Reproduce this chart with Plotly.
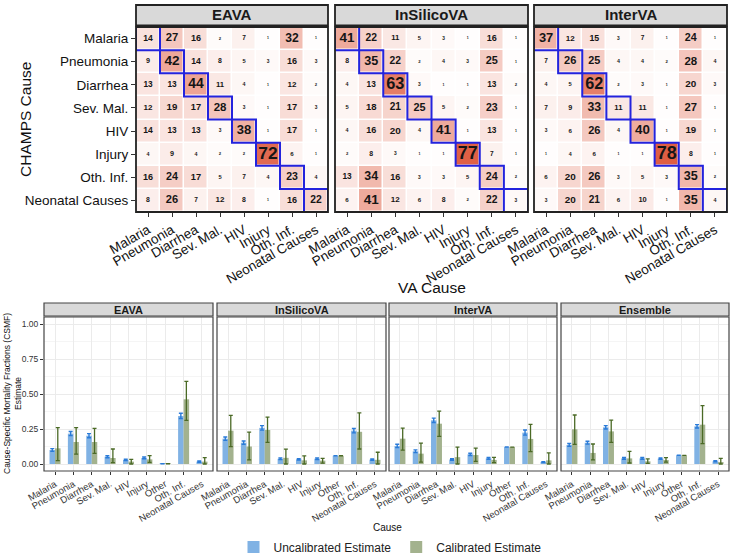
import plotly.graph_objects as go
import numpy as np

W, H = 733, 558
FONT = "Liberation Sans, Arial, Helvetica, sans-serif"

# ---------------- data: confusion matrices (rows = CHAMPS cause, cols = VA cause) --------------
HM_CAUSES = ["Malaria", "Pneumonia", "Diarrhea", "Sev. Mal.", "HIV", "Injury", "Oth. Inf.", "Neonatal Causes"]
HM_METHODS = ["EAVA", "InSilicoVA", "InterVA"]

EAVA_MAT = [
    [14, 27, 16, 2, 7, 1, 32, 1],
    [9, 42, 14, 8, 5, 3, 16, 3],
    [13, 13, 44, 11, 4, 1, 12, 2],
    [12, 19, 17, 28, 3, 1, 17, 3],
    [14, 13, 13, 3, 38, 1, 17, 1],
    [4, 9, 4, 2, 2, 72, 6, 1],
    [16, 24, 17, 5, 7, 4, 23, 4],
    [8, 26, 7, 12, 8, 1, 16, 22],
]
INSILICO_MAT = [
    [41, 22, 11, 5, 3, 1, 16, 1],
    [8, 35, 22, 2, 4, 3, 25, 1],
    [4, 13, 63, 3, 1, 1, 13, 2],
    [5, 18, 21, 25, 5, 2, 23, 1],
    [4, 16, 20, 4, 41, 1, 13, 1],
    [2, 8, 3, 1, 1, 77, 7, 1],
    [13, 34, 16, 3, 3, 5, 24, 2],
    [6, 41, 12, 6, 8, 2, 22, 3],
]
INTERVA_MAT = [
    [37, 12, 15, 3, 7, 1, 24, 1],
    [7, 26, 25, 4, 4, 2, 28, 4],
    [4, 5, 62, 2, 3, 1, 20, 3],
    [7, 9, 33, 11, 11, 1, 27, 1],
    [3, 6, 26, 4, 40, 1, 19, 1],
    [1, 4, 6, 1, 1, 78, 8, 1],
    [6, 20, 26, 3, 5, 3, 35, 2],
    [3, 20, 21, 6, 10, 1, 35, 4],
]

# ---------------- data: CSMF estimates ----------------
BAR_CAUSES = ["Malaria", "Pneumonia", "Diarrhea", "Sev. Mal.", "HIV", "Injury", "Other", "Oth. Inf.", "Neonatal Causes"]
BAR_METHODS = ["EAVA", "InSilicoVA", "InterVA", "Ensemble"]

EAVA_UNCAL = [0.100, 0.217, 0.202, 0.052, 0.029, 0.043, 0.002, 0.343, 0.017]
EAVA_UNCAL_LO = [0.090, 0.203, 0.188, 0.045, 0.024, 0.037, 0.001, 0.325, 0.013]
EAVA_UNCAL_HI = [0.110, 0.232, 0.217, 0.059, 0.034, 0.050, 0.003, 0.362, 0.021]
EAVA_CAL = [0.112, 0.157, 0.157, 0.043, 0.017, 0.033, 0.002, 0.462, 0.017]
EAVA_CAL_LO = [0.024, 0.071, 0.076, 0.010, 0.000, 0.012, 0.001, 0.312, 0.000]
EAVA_CAL_HI = [0.260, 0.260, 0.255, 0.107, 0.033, 0.060, 0.003, 0.590, 0.045]

INSILICO_UNCAL = [0.181, 0.152, 0.258, 0.037, 0.033, 0.038, 0.059, 0.238, 0.031]
INSILICO_UNCAL_LO = [0.169, 0.140, 0.242, 0.031, 0.028, 0.032, 0.059, 0.222, 0.026]
INSILICO_UNCAL_HI = [0.193, 0.164, 0.274, 0.043, 0.038, 0.044, 0.059, 0.254, 0.036]
INSILICO_CAL = [0.238, 0.125, 0.243, 0.044, 0.026, 0.024, 0.059, 0.230, 0.030]
INSILICO_CAL_LO = [0.124, 0.030, 0.155, 0.000, 0.000, 0.006, 0.059, 0.107, 0.000]
INSILICO_CAL_HI = [0.348, 0.228, 0.335, 0.106, 0.058, 0.040, 0.059, 0.365, 0.084]

INTERVA_UNCAL = [0.129, 0.091, 0.312, 0.032, 0.069, 0.040, 0.121, 0.224, 0.014]
INTERVA_UNCAL_LO = [0.117, 0.081, 0.296, 0.027, 0.061, 0.034, 0.121, 0.206, 0.011]
INTERVA_UNCAL_HI = [0.141, 0.101, 0.328, 0.037, 0.077, 0.046, 0.121, 0.243, 0.017]
INTERVA_CAL = [0.181, 0.074, 0.288, 0.049, 0.064, 0.029, 0.121, 0.179, 0.026]
INTERVA_CAL_LO = [0.099, 0.014, 0.197, 0.000, 0.019, 0.010, 0.121, 0.088, 0.000]
INTERVA_CAL_HI = [0.256, 0.149, 0.378, 0.121, 0.114, 0.048, 0.121, 0.283, 0.079]

ENSEMBLE_UNCAL = [0.136, 0.152, 0.262, 0.040, 0.040, 0.038, 0.062, 0.269, 0.019]
ENSEMBLE_UNCAL_LO = [0.126, 0.142, 0.250, 0.034, 0.034, 0.033, 0.062, 0.257, 0.015]
ENSEMBLE_UNCAL_HI = [0.146, 0.162, 0.274, 0.046, 0.046, 0.043, 0.062, 0.281, 0.023]
ENSEMBLE_CAL = [0.248, 0.079, 0.233, 0.040, 0.019, 0.029, 0.062, 0.281, 0.014]
ENSEMBLE_CAL_LO = [0.140, 0.029, 0.155, 0.007, 0.005, 0.014, 0.062, 0.145, 0.000]
ENSEMBLE_CAL_HI = [0.350, 0.143, 0.314, 0.090, 0.036, 0.045, 0.062, 0.417, 0.040]

Y_TICKS = [0, 0.25, 0.5, 0.75, 1.0]
Y_TICKTEXT = ["0.00", "0.25", "0.50", "0.75", "1.00"]

# ---------------- layout geometry (pixels) ----------------
HM_X_PX = [(136, 328), (335, 528), (534, 727)]
HM_Y_PX = (27, 212)
HM_STRIP_PX = 22
BAR_X_PX = [(44, 213), (217, 386), (389, 557), (561, 729)]
BAR_Y_PX = (317, 471)
BAR_STRIP_PX = 14


def dx(a, b):
    return [a / W, b / W]


def dy(top, bottom):
    return [1 - bottom / H, 1 - top / H]


fig = go.Figure()
layout = {}
shapes = []
annotations = []

HM_COLORSCALE = [[0, "#ffffff"], [1, "rgb(214,48,14)"]]
mats = [EAVA_MAT, INSILICO_MAT, INTERVA_MAT]

for k, (name, mat) in enumerate(zip(HM_METHODS, mats)):
    sfx = "" if k == 0 else str(k + 1)
    z = np.array(mat)
    n = len(HM_CAUSES)
    fig.add_trace(go.Heatmap(
        z=z, x=list(range(n)), y=list(range(n)),
        colorscale=HM_COLORSCALE, zmin=0, zmax=100, showscale=False,
        xgap=1.5, ygap=1.5, hoverinfo="skip",
        xaxis="x" + sfx, yaxis="y" + sfx,
    ))
    xs, ys, ts, ss = [], [], [], []
    for r in range(n):
        for c in range(n):
            v = z[r, c]
            xs.append(c)
            ys.append(r)
            ts.append(str(v))
            ss.append(1.6 + 1.86 * np.sqrt(v))
    fig.add_trace(go.Scatter(
        x=xs, y=ys, mode="text", text=ts,
        textfont=dict(size=ss, color="#151515", family=FONT, weight="bold"),
        hoverinfo="skip", showlegend=False,
        xaxis="x" + sfx, yaxis="y" + sfx,
    ))
    layout["xaxis" + sfx] = dict(
        domain=dx(*HM_X_PX[k]), range=[-0.5, n - 0.5], anchor="y" + sfx,
        tickmode="array", tickvals=list(range(n)), ticktext=HM_CAUSES,
        tickangle=-30, ticks="outside", ticklen=4, tickcolor="#333",
        tickfont=dict(size=13.5, color="#111", family=FONT),
        showgrid=False, zeroline=False, showline=False, automargin=False,
    )
    layout["yaxis" + sfx] = dict(
        domain=dy(*HM_Y_PX), range=[n - 0.5, -0.5], anchor="x" + sfx,
        tickmode="array", tickvals=list(range(n)), ticktext=HM_CAUSES,
        showticklabels=(k == 0), ticks="outside" if k == 0 else "",
        ticklen=4, tickcolor="#333",
        tickfont=dict(size=13.5, color="#111", family=FONT),
        showgrid=False, zeroline=False, showline=False, automargin=False,
    )
    # diagonal outlines
    for i in range(n):
        shapes.append(dict(type="rect", xref="x" + sfx, yref="y" + sfx,
                           x0=i - 0.5, x1=i + 0.5, y0=i - 0.5, y1=i + 0.5,
                           line=dict(color="#2323dd", width=2), layer="above"))
    hm_h = HM_Y_PX[1] - HM_Y_PX[0]
    shapes.append(dict(type="rect", xref="x" + sfx + " domain", yref="y" + sfx + " domain",
                       x0=0, x1=1, y0=0, y1=1, line=dict(color="#222", width=1.8), layer="above"))
    shapes.append(dict(type="rect", xref="x" + sfx + " domain", yref="y" + sfx + " domain",
                       x0=0, x1=1, y0=1 + 1.5 / hm_h, y1=1 + HM_STRIP_PX / hm_h,
                       fillcolor="#d9d9d9", line=dict(color="#222", width=1.8), layer="above"))
    annotations.append(dict(xref="x" + sfx + " domain", yref="y" + sfx + " domain",
                            x=0.5, y=1 + (HM_STRIP_PX / 2 + 1) / hm_h, text="<b>" + name + "</b>",
                            showarrow=False, font=dict(size=15, color="#1a1a1a", family=FONT),
                            xanchor="center", yanchor="middle"))

# ---------------- bar panels ----------------
bar_sets = [
    (EAVA_UNCAL, EAVA_UNCAL_LO, EAVA_UNCAL_HI, EAVA_CAL, EAVA_CAL_LO, EAVA_CAL_HI),
    (INSILICO_UNCAL, INSILICO_UNCAL_LO, INSILICO_UNCAL_HI, INSILICO_CAL, INSILICO_CAL_LO, INSILICO_CAL_HI),
    (INTERVA_UNCAL, INTERVA_UNCAL_LO, INTERVA_UNCAL_HI, INTERVA_CAL, INTERVA_CAL_LO, INTERVA_CAL_HI),
    (ENSEMBLE_UNCAL, ENSEMBLE_UNCAL_LO, ENSEMBLE_UNCAL_HI, ENSEMBLE_CAL, ENSEMBLE_CAL_LO, ENSEMBLE_CAL_HI),
]
UNCAL_COLOR = "#80b2e4"
CAL_COLOR = "#a3b28e"
UNCAL_ERR = "#2a7bd8"
CAL_ERR = "#4b6a26"

for j, (name, data) in enumerate(zip(BAR_METHODS, bar_sets)):
    sfx = str(j + 4)
    u, ulo, uhi, c, clo, chi = [np.array(a) for a in data]
    xs = list(range(len(BAR_CAUSES)))
    fig.add_trace(go.Bar(
        x=xs, y=u, name="Uncalibrated Estimate", marker=dict(color=UNCAL_COLOR, line=dict(width=0)),
        error_y=dict(type="data", symmetric=False, array=uhi - u, arrayminus=u - ulo,
                     color=UNCAL_ERR, thickness=1.4, width=2),
        showlegend=(j == 0), legendgroup="u", offsetgroup="u",
        xaxis="x" + sfx, yaxis="y" + sfx, hoverinfo="skip",
    ))
    fig.add_trace(go.Bar(
        x=xs, y=c, name="Calibrated Estimate", marker=dict(color=CAL_COLOR, line=dict(width=0)),
        error_y=dict(type="data", symmetric=False, array=chi - c, arrayminus=c - clo,
                     color=CAL_ERR, thickness=1.3, width=2),
        showlegend=(j == 0), legendgroup="c", offsetgroup="c",
        xaxis="x" + sfx, yaxis="y" + sfx, hoverinfo="skip",
    ))
    layout["xaxis" + sfx] = dict(
        domain=dx(*BAR_X_PX[j]), range=[-0.6, len(BAR_CAUSES) - 0.4], anchor="y" + sfx,
        tickmode="array", tickvals=xs, ticktext=BAR_CAUSES, tickangle=-30,
        ticks="outside", ticklen=3, tickcolor="#333",
        tickfont=dict(size=9.5, color="#333", family=FONT),
        showgrid=True, gridcolor="#ebebeb", gridwidth=0.8, zeroline=False, showline=False,
        automargin=False,
    )
    layout["yaxis" + sfx] = dict(
        domain=dy(*BAR_Y_PX), range=[-0.05, 1.05], anchor="x" + sfx,
        tickmode="array", tickvals=Y_TICKS, ticktext=Y_TICKTEXT,
        showticklabels=(j == 0), ticks="outside" if j == 0 else "", ticklen=3, tickcolor="#333",
        tickfont=dict(size=8.5, color="#333", family=FONT),
        showgrid=True, gridcolor="#ebebeb", gridwidth=0.8, zeroline=False, showline=False,
        minor=dict(tickvals=[0.125, 0.375, 0.625, 0.875], showgrid=True, gridcolor="#f5f5f5", gridwidth=0.5),
        automargin=False,
    )
    bh = BAR_Y_PX[1] - BAR_Y_PX[0]
    shapes.append(dict(type="rect", xref="x" + sfx + " domain", yref="y" + sfx + " domain",
                       x0=0, x1=1, y0=0, y1=1, line=dict(color="#444", width=1.2), layer="above"))
    shapes.append(dict(type="rect", xref="x" + sfx + " domain", yref="y" + sfx + " domain",
                       x0=0, x1=1, y0=1 + 1 / bh, y1=1 + BAR_STRIP_PX / bh,
                       fillcolor="#d9d9d9", line=dict(color="#444", width=1.2), layer="above"))
    annotations.append(dict(xref="x" + sfx + " domain", yref="y" + sfx + " domain",
                            x=0.5, y=1 + (BAR_STRIP_PX / 2 + 0.5) / bh, text="<b>" + name + "</b>",
                            showarrow=False, font=dict(size=11, color="#1a1a1a", family=FONT),
                            xanchor="center", yanchor="middle"))

# ---------------- titles ----------------
annotations.append(dict(xref="paper", yref="paper", x=432 / W, y=1 - 287 / H, text="VA Cause",
                        showarrow=False, font=dict(size=15.5, color="#111", family=FONT),
                        xanchor="center", yanchor="middle"))
annotations.append(dict(xref="paper", yref="paper", x=25 / W, y=1 - 120 / H, text="CHAMPS Cause",
                        showarrow=False, textangle=-90, font=dict(size=15.5, color="#111", family=FONT),
                        xanchor="center", yanchor="middle"))
annotations.append(dict(xref="paper", yref="paper", x=387 / W, y=1 - 527 / H, text="Cause",
                        showarrow=False, font=dict(size=10, color="#111", family=FONT),
                        xanchor="center", yanchor="middle"))
annotations.append(dict(xref="paper", yref="paper", x=12 / W, y=1 - 394 / H,
                        text="Cause-Specific Mortality Fractions (CSMF)<br>Estimate",
                        showarrow=False, textangle=-90, font=dict(size=8.5, color="#111", family=FONT),
                        xanchor="center", yanchor="middle"))

fig.update_layout(
    width=W, height=H, margin=dict(l=0, r=0, t=0, b=0, autoexpand=False),
    paper_bgcolor="white", plot_bgcolor="white",
    font=dict(family=FONT),
    barmode="group", bargap=0.4, bargroupgap=0,
    shapes=shapes, annotations=annotations,
    showlegend=True,
    legend=dict(orientation="h", x=390 / W, xanchor="center", y=1 - 547 / H, yanchor="middle",
                font=dict(size=12, color="#222", family=FONT), itemwidth=30,
                bgcolor="rgba(0,0,0,0)", traceorder="normal"),
    **layout,
)

fig.write_html("out.html")
